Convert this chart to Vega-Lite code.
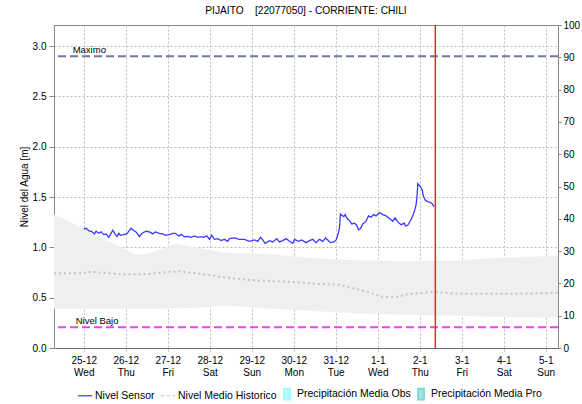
{
  "$schema": "https://vega.github.io/schema/vega-lite/v6.json",
  "width": 504,
  "height": 323,
  "autosize": {"type": "none"},
  "padding": {"left": 54, "top": 25, "right": 24, "bottom": 56},
  "background": "white",
  "title": {"text": "PIJAITO\u00a0\u00a0\u00a0\u00a0[22077050] - CORRIENTE: CHILI", "fontSize": 10.2, "fontWeight": "normal", "font": "Liberation Sans", "offset": 4, "color": "#000"},
  "config": {
    "font": "Liberation Sans",
    "view": {"stroke": "#888", "strokeWidth": 1},
    "axis": {"labelFont": "Liberation Sans", "titleFont": "Liberation Sans"},
    "legend": {"labelFont": "Liberation Sans"}
  },
  "datasets": {
    "sensor": [
      {"t": "2024-12-25T00:00", "v": 1.184}, {"t": "2024-12-25T01:20", "v": 1.19}, {"t": "2024-12-25T02:51", "v": 1.167}, {"t": "2024-12-25T04:46", "v": 1.154},
      {"t": "2024-12-25T06:06", "v": 1.134}, {"t": "2024-12-25T07:03", "v": 1.16}, {"t": "2024-12-25T08:34", "v": 1.14}, {"t": "2024-12-25T09:54", "v": 1.154},
      {"t": "2024-12-25T11:26", "v": 1.127}, {"t": "2024-12-25T12:46", "v": 1.134}, {"t": "2024-12-25T14:17", "v": 1.10}, {"t": "2024-12-25T15:14", "v": 1.127},
      {"t": "2024-12-25T16:34", "v": 1.17}, {"t": "2024-12-25T17:54", "v": 1.134}, {"t": "2024-12-25T19:03", "v": 1.107}, {"t": "2024-12-25T20:00", "v": 1.14},
      {"t": "2024-12-25T20:57", "v": 1.12}, {"t": "2024-12-25T22:40", "v": 1.127}, {"t": "2024-12-26T00:34", "v": 1.134}, {"t": "2024-12-26T01:43", "v": 1.16},
      {"t": "2024-12-26T03:03", "v": 1.19}, {"t": "2024-12-26T04:23", "v": 1.17}, {"t": "2024-12-26T05:54", "v": 1.154}, {"t": "2024-12-26T07:49", "v": 1.107},
      {"t": "2024-12-26T09:20", "v": 1.14}, {"t": "2024-12-26T11:37", "v": 1.16}, {"t": "2024-12-26T13:31", "v": 1.154}, {"t": "2024-12-26T15:26", "v": 1.134},
      {"t": "2024-12-26T16:57", "v": 1.154}, {"t": "2024-12-26T19:14", "v": 1.14}, {"t": "2024-12-26T21:09", "v": 1.134}, {"t": "2024-12-26T22:40", "v": 1.12},
      {"t": "2024-12-27T00:57", "v": 1.127}, {"t": "2024-12-27T02:51", "v": 1.14}, {"t": "2024-12-27T04:23", "v": 1.14}, {"t": "2024-12-27T06:17", "v": 1.114},
      {"t": "2024-12-27T07:49", "v": 1.127}, {"t": "2024-12-27T09:31", "v": 1.104}, {"t": "2024-12-27T11:26", "v": 1.11}, {"t": "2024-12-27T13:20", "v": 1.10},
      {"t": "2024-12-27T15:14", "v": 1.114}, {"t": "2024-12-27T17:09", "v": 1.10}, {"t": "2024-12-27T19:03", "v": 1.107}, {"t": "2024-12-27T20:34", "v": 1.10},
      {"t": "2024-12-27T22:17", "v": 1.114}, {"t": "2024-12-27T23:49", "v": 1.08}, {"t": "2024-12-28T01:09", "v": 1.12}, {"t": "2024-12-28T02:40", "v": 1.08},
      {"t": "2024-12-28T04:34", "v": 1.087}, {"t": "2024-12-28T06:29", "v": 1.067}, {"t": "2024-12-28T08:23", "v": 1.08}, {"t": "2024-12-28T10:17", "v": 1.06},
      {"t": "2024-12-28T11:14", "v": 1.087}, {"t": "2024-12-28T14:05", "v": 1.094}, {"t": "2024-12-28T16:58", "v": 1.08}, {"t": "2024-12-28T19:49", "v": 1.08},
      {"t": "2024-12-28T22:41", "v": 1.06}, {"t": "2024-12-29T01:32", "v": 1.074}, {"t": "2024-12-29T03:27", "v": 1.06}, {"t": "2024-12-29T04:58", "v": 1.10},
      {"t": "2024-12-29T06:18", "v": 1.074}, {"t": "2024-12-29T07:38", "v": 1.04}, {"t": "2024-12-29T10:06", "v": 1.067}, {"t": "2024-12-29T12:01", "v": 1.054},
      {"t": "2024-12-29T14:18", "v": 1.087}, {"t": "2024-12-29T15:50", "v": 1.054}, {"t": "2024-12-29T17:44", "v": 1.067}, {"t": "2024-12-29T19:38", "v": 1.087},
      {"t": "2024-12-29T21:33", "v": 1.06}, {"t": "2024-12-29T23:27", "v": 1.04}, {"t": "2024-12-30T00:24", "v": 1.08}, {"t": "2024-12-30T02:41", "v": 1.06},
      {"t": "2024-12-30T04:35", "v": 1.074}, {"t": "2024-12-30T07:03", "v": 1.047}, {"t": "2024-12-30T08:58", "v": 1.067}, {"t": "2024-12-30T10:52", "v": 1.08},
      {"t": "2024-12-30T12:46", "v": 1.047}, {"t": "2024-12-30T14:41", "v": 1.08}, {"t": "2024-12-30T16:35", "v": 1.06}, {"t": "2024-12-30T18:07", "v": 1.094},
      {"t": "2024-12-30T19:26", "v": 1.074}, {"t": "2024-12-30T20:58", "v": 1.047}, {"t": "2024-12-30T22:52", "v": 1.054}, {"t": "2024-12-31T00:13", "v": 1.074},
      {"t": "2024-12-31T01:09", "v": 1.12}, {"t": "2024-12-31T02:07", "v": 1.19}, {"t": "2024-12-31T02:41", "v": 1.333}, {"t": "2024-12-31T03:27", "v": 1.32},
      {"t": "2024-12-31T04:35", "v": 1.306}, {"t": "2024-12-31T05:21", "v": 1.326}, {"t": "2024-12-31T06:30", "v": 1.286}, {"t": "2024-12-31T07:49", "v": 1.266},
      {"t": "2024-12-31T09:10", "v": 1.233}, {"t": "2024-12-31T10:41", "v": 1.24}, {"t": "2024-12-31T12:01", "v": 1.22}, {"t": "2024-12-31T12:59", "v": 1.174},
      {"t": "2024-12-31T14:07", "v": 1.187}, {"t": "2024-12-31T15:27", "v": 1.233}, {"t": "2024-12-31T17:21", "v": 1.26}, {"t": "2024-12-31T18:41", "v": 1.313},
      {"t": "2024-12-31T20:12", "v": 1.30}, {"t": "2024-12-31T21:33", "v": 1.326}, {"t": "2024-12-31T23:04", "v": 1.313}, {"t": "2025-01-01T00:58", "v": 1.346},
      {"t": "2025-01-01T02:52", "v": 1.326}, {"t": "2025-01-01T04:46", "v": 1.313}, {"t": "2025-01-01T06:40", "v": 1.286}, {"t": "2025-01-01T08:35", "v": 1.26},
      {"t": "2025-01-01T09:55", "v": 1.293}, {"t": "2025-01-01T11:27", "v": 1.253}, {"t": "2025-01-01T13:20", "v": 1.226}, {"t": "2025-01-01T15:15", "v": 1.24},
      {"t": "2025-01-01T15:50", "v": 1.213}, {"t": "2025-01-01T17:10", "v": 1.22}, {"t": "2025-01-01T18:30", "v": 1.26}, {"t": "2025-01-01T19:39", "v": 1.30},
      {"t": "2025-01-01T20:59", "v": 1.36}, {"t": "2025-01-01T21:56", "v": 1.425}, {"t": "2025-01-01T22:30", "v": 1.52}, {"t": "2025-01-01T22:53", "v": 1.634},
      {"t": "2025-01-02T00:13", "v": 1.607}, {"t": "2025-01-02T01:22", "v": 1.574}, {"t": "2025-01-02T02:07", "v": 1.507}, {"t": "2025-01-02T03:16", "v": 1.468},
      {"t": "2025-01-02T04:35", "v": 1.455}, {"t": "2025-01-02T05:56", "v": 1.448}, {"t": "2025-01-02T07:05", "v": 1.435}, {"t": "2025-01-02T08:12", "v": 1.402}
    ],
    "hist": [
      {"t": "2024-12-24T07:00", "v": 0.744}, {"t": "2024-12-25T00:00", "v": 0.744}, {"t": "2024-12-25T01:20", "v": 0.757}, {"t": "2024-12-25T08:57", "v": 0.75},
      {"t": "2024-12-26T00:12", "v": 0.73}, {"t": "2024-12-26T13:31", "v": 0.737}, {"t": "2024-12-27T00:58", "v": 0.757}, {"t": "2024-12-27T06:40", "v": 0.763},
      {"t": "2024-12-27T18:06", "v": 0.737}, {"t": "2024-12-28T08:23", "v": 0.703}, {"t": "2024-12-28T14:05", "v": 0.69}, {"t": "2024-12-29T03:27", "v": 0.67},
      {"t": "2024-12-29T22:29", "v": 0.657}, {"t": "2024-12-30T13:44", "v": 0.637}, {"t": "2024-12-31T01:09", "v": 0.63}, {"t": "2024-12-31T08:46", "v": 0.598},
      {"t": "2024-12-31T18:17", "v": 0.558}, {"t": "2025-01-01T01:55", "v": 0.511}, {"t": "2025-01-01T07:41", "v": 0.505}, {"t": "2025-01-01T12:25", "v": 0.511},
      {"t": "2025-01-01T15:15", "v": 0.531}, {"t": "2025-01-01T23:50", "v": 0.544}, {"t": "2025-01-02T07:26", "v": 0.558}, {"t": "2025-01-02T22:42", "v": 0.538},
      {"t": "2025-01-03T21:36", "v": 0.538}, {"t": "2025-01-05T00:14", "v": 0.544}, {"t": "2025-01-05T07:00", "v": 0.55}
    ],
    "band": [
      {"t": "2024-12-24T07:00", "lo": 0.39, "hi": 1.326}, {"t": "2024-12-24T15:50", "lo": 0.39, "hi": 1.26}, {"t": "2024-12-25T00:00", "lo": 0.39, "hi": 1.177},
      {"t": "2024-12-25T08:57", "lo": 0.39, "hi": 1.10}, {"t": "2024-12-25T18:29", "lo": 0.39, "hi": 1.028}, {"t": "2024-12-26T06:17", "lo": 0.39, "hi": 0.922},
      {"t": "2024-12-26T13:31", "lo": 0.39, "hi": 0.94}, {"t": "2024-12-27T04:45", "lo": 0.395, "hi": 1.035}, {"t": "2024-12-27T18:06", "lo": 0.40, "hi": 0.995},
      {"t": "2024-12-28T07:12", "lo": 0.425, "hi": 0.95}, {"t": "2024-12-28T11:14", "lo": 0.42, "hi": 0.945}, {"t": "2024-12-29T12:00", "lo": 0.39, "hi": 0.93},
      {"t": "2024-12-29T22:29", "lo": 0.38, "hi": 0.912}, {"t": "2024-12-30T23:15", "lo": 0.355, "hi": 0.879}, {"t": "2024-12-31T07:12", "lo": 0.35, "hi": 0.875},
      {"t": "2025-01-01T15:15", "lo": 0.33, "hi": 0.862}, {"t": "2025-01-02T22:42", "lo": 0.32, "hi": 0.869}, {"t": "2025-01-03T21:33", "lo": 0.31, "hi": 0.896},
      {"t": "2025-01-05T07:00", "lo": 0.30, "hi": 0.918}
    ],
    "refs": [
      {"name": "Maximo", "nivel": 2.9, "lab": "2024-12-24T17:40"},
      {"name": "Nivel Bajo", "nivel": 0.205, "lab": "2024-12-24T19:24"}
    ],
    "now": [
      {"t": "2025-01-02T08:54"}
    ],
    "legend": [
      {"serie": "Nivel Sensor", "p": null}, {"serie": "Nivel Medio Historico", "p": null},
      {"serie": "Precipitación Media Obs", "p": null}, {"serie": "Precipitación Media Pro", "p": null}
    ]
  },
  "layer": [
    {
      "layer": [
        {
          "data": {"name": "band"},
          "mark": {"type": "area", "color": "#efefef", "opacity": 1},
          "encoding": {
            "x": {"field": "t", "type": "temporal",
              "scale": {"domain": [{"year": 2024, "month": 12, "date": 24, "hours": 7}, {"year": 2025, "month": 1, "date": 5, "hours": 7}]},
              "axis": {"orient": "bottom", "tickCount": {"interval": "day", "step": 1},
                "labelExpr": "[timeFormat(datum.value, '%-d-%-m'), timeFormat(datum.value, '%a')]",
                "labelFontSize": 10, "labelColor": "#000", "labelLineHeight": 12, "labelPadding": 4,
                "labelFlush": false, "labelOverlap": false, "title": null,
                "grid": true, "gridColor": "#bdbdbd", "gridDash": [2, 2],
                "domainColor": "#333", "domainDash": [1, 1], "tickColor": "#999", "tickSize": 3, "tickDash": [1, 1]}},
            "y": {"field": "lo", "type": "quantitative", "scale": {"domain": [0, 3.21], "nice": false, "zero": false},
              "axis": {"values": [0, 0.5, 1, 1.5, 2, 2.5, 3], "format": ".1f", "title": "Nivel del Agua [m]",
                "titleFontSize": 10, "titleFontWeight": "normal", "titleColor": "#000", "titlePadding": 3,
                "labelFontSize": 10, "labelColor": "#000", "labelPadding": 3, "tickSize": 5, "tickColor": "#888",
                "domainColor": "#888", "grid": true, "gridColor": "#bdbdbd", "gridDash": [2, 2]}},
            "y2": {"field": "hi"}
          }
        },
        {
          "data": {"name": "hist"},
          "mark": {"type": "line", "color": "#c4c4c4", "strokeWidth": 2, "strokeDash": [2, 3]},
          "encoding": {
            "x": {"field": "t", "type": "temporal"},
            "y": {"field": "v", "type": "quantitative"}
          }
        },
        {
          "data": {"name": "sensor"},
          "mark": {"type": "line", "color": "#3a3aff", "strokeWidth": 1.3},
          "encoding": {
            "x": {"field": "t", "type": "temporal"},
            "y": {"field": "v", "type": "quantitative"}
          }
        },
        {
          "data": {"name": "refs"},
          "transform": [{"filter": "datum.name == 'Maximo'"}],
          "mark": {"type": "rule", "color": "#6c79a6", "strokeWidth": 2, "strokeDash": [8, 4]},
          "encoding": {
            "y": {"field": "nivel", "type": "quantitative"}
          }
        },
        {
          "data": {"name": "refs"},
          "transform": [{"filter": "datum.name == 'Nivel Bajo'"}],
          "mark": {"type": "rule", "color": "#f040f0", "strokeWidth": 2, "strokeDash": [8, 4]},
          "encoding": {
            "y": {"field": "nivel", "type": "quantitative"}
          }
        },
        {
          "data": {"name": "refs"},
          "mark": {"type": "text", "align": "left", "baseline": "alphabetic", "dy": -3, "fontSize": 9.5, "color": "#000"},
          "encoding": {
            "x": {"field": "lab", "type": "temporal"},
            "y": {"field": "nivel", "type": "quantitative"},
            "text": {"field": "name"}
          }
        },
        {
          "data": {"name": "now"},
          "mark": {"type": "rule", "color": "#ff2020", "strokeWidth": 1.5},
          "encoding": {
            "x": {"field": "t", "type": "temporal"}
          }
        }
      ]
    },
    {
      "data": {"name": "legend"},
      "mark": {"type": "point", "filled": true, "strokeWidth": 1.5},
      "encoding": {
        "y": {"field": "p", "type": "quantitative", "scale": {"domain": [0, 100], "nice": false},
          "axis": {"orient": "right", "values": [0, 10, 20, 30, 40, 50, 60, 70, 80, 90, 100], "title": null, "grid": false,
            "tickSize": 3, "tickColor": "#888", "domainColor": "#888", "labelFontSize": 10, "labelColor": "#000", "labelPadding": 2}},
        "fill": {"field": "serie", "type": "nominal",
          "scale": {"domain": ["Nivel Sensor", "Nivel Medio Historico", "Precipitación Media Obs", "Precipitación Media Pro"], "range": ["#1a1aee", "#c4c4c4", "#66ffff", "#40c4c0"]},
          "legend": {"title": null, "orient": "none", "legendX": 23, "legendY": 361, "direction": "horizontal", "symbolSize": 200, "labelFontSize": 10.5, "labelColor": "#000", "labelOffset": 2, "columnPadding": 2, "padding": 0, "symbolStrokeWidth": 1.5, "labelLimit": 300}},
        "stroke": {"field": "serie", "type": "nominal",
          "scale": {"domain": ["Nivel Sensor", "Nivel Medio Historico", "Precipitación Media Obs", "Precipitación Media Pro"], "range": ["#1a1aee", "#c4c4c4", "#66ffff", "#40c4c0"]},
          "legend": {"title": null, "orient": "none", "legendX": 23, "legendY": 361, "direction": "horizontal", "symbolSize": 200, "labelFontSize": 10.5, "labelColor": "#000", "labelOffset": 2, "columnPadding": 2, "padding": 0, "symbolStrokeWidth": 1.5, "labelLimit": 300}},
        "shape": {"field": "serie", "type": "nominal",
          "scale": {"domain": ["Nivel Sensor", "Nivel Medio Historico", "Precipitación Media Obs", "Precipitación Media Pro"], "range": ["stroke", "stroke", "M-0.44,-0.8H0.44V0.8H-0.44Z", "M-0.44,-0.8H0.44V0.8H-0.44Z"]},
          "legend": {"title": null, "orient": "none", "legendX": 23, "legendY": 361, "direction": "horizontal", "symbolSize": 200, "labelFontSize": 10.5, "labelColor": "#000", "labelOffset": 2, "columnPadding": 2, "padding": 0, "symbolStrokeWidth": 1.5, "labelLimit": 300}},
        "strokeDash": {"field": "serie", "type": "nominal",
          "scale": {"domain": ["Nivel Sensor", "Nivel Medio Historico", "Precipitación Media Obs", "Precipitación Media Pro"], "range": [[1, 0], [3, 3], [1, 0], [1, 0]]},
          "legend": {"title": null, "orient": "none", "legendX": 23, "legendY": 361, "direction": "horizontal", "symbolSize": 200, "labelFontSize": 10.5, "labelColor": "#000", "labelOffset": 2, "columnPadding": 2, "padding": 0, "symbolStrokeWidth": 1.5, "labelLimit": 300}}
      }
    }
  ],
  "resolve": {"scale": {"y": "independent"}}
}
